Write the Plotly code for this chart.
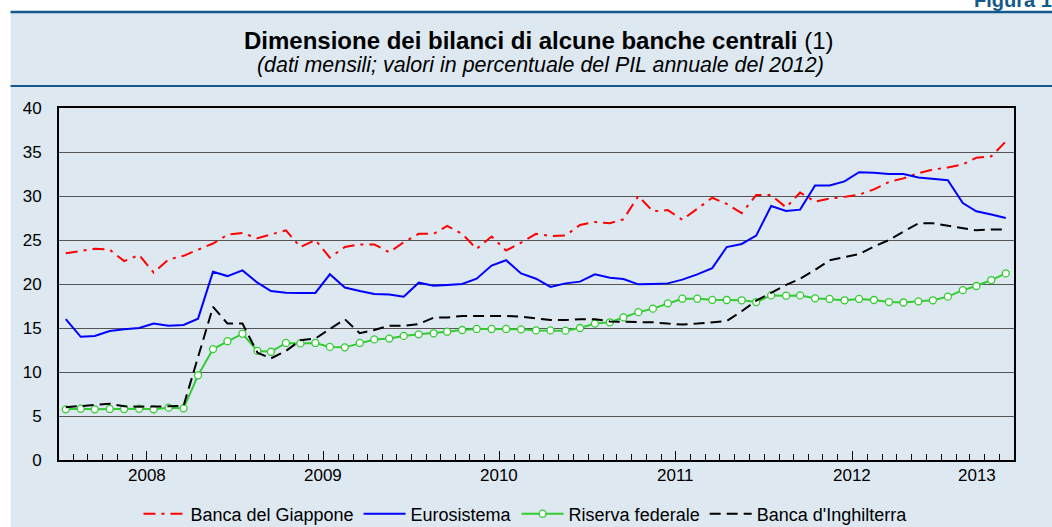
import pandas as pd
import plotly.graph_objects as go

# ---------------- data (monthly, % of 2012 annual GDP) ----------------
start_month = "2008-01-01"
n_months = 65
months = pd.date_range(start_month, periods=n_months, freq="MS") + pd.Timedelta(days=14)

giappone = [23.5, 23.8, 24.0, 23.9, 22.6, 23.3, 21.3, 22.8, 23.2, 23.9, 24.6, 25.6,
            25.8, 25.2, 25.65, 26.1, 24.2, 25.0, 23.0, 24.2, 24.5, 24.5, 23.6, 24.75,
            25.7, 25.7, 26.6, 25.7, 24.0, 25.4, 23.8, 24.7, 25.7, 25.45, 25.5, 26.7,
            27.05, 26.9, 27.35, 30.0, 28.26, 28.4, 27.3, 28.56, 29.8, 29.1, 28.05, 30.1,
            30.1, 28.7, 30.4, 29.35, 29.7, 29.9, 30.15, 30.75, 31.6, 32.0, 32.6, 33.0,
            33.25, 33.6, 34.35, 34.5, 36.2]

eurosistema = [16.0, 14.0, 14.1, 14.66, 14.85, 15.0, 15.5, 15.26, 15.34, 16.06, 21.4, 20.9,
               21.55, 20.15, 19.2, 19.0, 18.98, 18.98, 21.1, 19.6, 19.2, 18.86, 18.8, 18.56,
               20.15, 19.8, 19.9, 20.0, 20.6, 22.1, 22.7, 21.2, 20.6, 19.66, 20.07, 20.27,
               21.1, 20.7, 20.57, 19.96, 20.0, 20.07, 20.5, 21.1, 21.8, 24.2, 24.55, 25.5,
               28.86, 28.3, 28.45, 31.2, 31.2, 31.66, 32.7, 32.65, 32.5, 32.5, 32.1, 31.97,
               31.8, 29.2, 28.26, 27.9, 27.5]

riserva_federale = [5.76, 5.83, 5.76, 5.8, 5.8, 5.83, 5.76, 5.95, 5.87, 9.62, 12.6, 13.5,
                    14.35, 12.4, 12.3, 13.3, 13.25, 13.3, 12.85, 12.8, 13.3, 13.7, 13.8, 14.1,
                    14.28, 14.4, 14.58, 14.77, 14.89, 14.89, 14.89, 14.85, 14.73, 14.73, 14.7, 15.0,
                    15.5, 15.65, 16.2, 16.8, 17.2, 17.8, 18.33, 18.33, 18.2, 18.18, 18.15, 17.95,
                    18.7, 18.67, 18.7, 18.37, 18.3, 18.15, 18.3, 18.18, 17.95, 17.9, 18.03, 18.15,
                    18.56, 19.3, 19.77, 20.45, 21.2]

inghilterra = [6.0, 6.17, 6.25, 6.4, 6.1, 6.06, 6.06, 6.1, 6.17, 11.7, 17.4, 15.5,
               15.5, 12.2, 11.55, 12.4, 13.6, 13.8, 14.85, 16.0, 14.4, 14.77, 15.26, 15.26,
               15.45, 16.17, 16.2, 16.36, 16.36, 16.4, 16.36, 16.3, 16.06, 15.9, 15.9, 16.0,
               16.0, 15.75, 15.7, 15.7, 15.65, 15.5, 15.4, 15.5, 15.65, 15.8, 16.9, 18.1,
               19.0, 19.9, 20.6, 21.6, 22.7, 23.1, 23.4, 24.25, 25.0, 25.95, 26.9, 26.9,
               26.6, 26.3, 26.1, 26.2, 26.2]

series_names = ["Banca del Giappone", "Eurosistema", "Riserva federale", "Banca d'Inghilterra"]

year_labels = ["2008", "2009", "2010", "2011", "2012", "2013"]
year_label_pos = ["2008-07-01", "2009-07-01", "2010-07-01", "2011-07-01", "2012-07-01", "2013-03-16"]
year_bounds = ["2009-01-01", "2010-01-01", "2011-01-01", "2012-01-01", "2013-01-01"]
mid_years = ["2008-07-01", "2009-07-01", "2010-07-01", "2011-07-01", "2012-07-01"]
x_range = ["2008-01-01", "2013-06-01"]
y_ticks = [0, 5, 10, 15, 20, 25, 30, 35, 40]

# ---------------- styling ----------------
FONT = "Liberation Sans, Arial, Helvetica, sans-serif"
PANEL = "#dde8f1"
DARKBLUE = "#14598a"

# pixel geometry helpers (plot area 58.5..1014 x, 108..460 y)
L, R, T, B = 58.5, 1014.0, 108.0, 460.0
def px(x):
    return (x - L) / (R - L)
def py(y):
    return (B - y) / (B - T)

fig = go.Figure()

fig.add_trace(go.Scatter(x=months, y=giappone, name=series_names[0], mode="lines",
                         line=dict(color="#ff0000", width=2, dash="12px,6px,3px,6px")))
fig.add_trace(go.Scatter(x=months, y=eurosistema, name=series_names[1], mode="lines",
                         line=dict(color="#0000ff", width=2)))
fig.add_trace(go.Scatter(x=months, y=riserva_federale, name=series_names[2], mode="lines+markers",
                         line=dict(color="#33cc33", width=2),
                         marker=dict(symbol="circle", size=7, color="white",
                                     line=dict(color="#33cc33", width=1.3))))
fig.add_trace(go.Scatter(x=months, y=inghilterra, name=series_names[3], mode="lines",
                         line=dict(color="#000000", width=2, dash="11px,6px")))

shapes = [
    # light blue panel
    dict(type="rect", xref="paper", yref="paper", x0=px(10), x1=px(1100), y0=py(600), y1=py(12),
         fillcolor=PANEL, line=dict(width=0), layer="below"),
    # dark blue rules
    dict(type="line", xref="paper", yref="paper", x0=px(10), x1=px(1100), y0=py(12), y1=py(12),
         line=dict(color=DARKBLUE, width=2.5)),
    dict(type="line", xref="paper", yref="paper", x0=px(10), x1=px(1100), y0=py(86), y1=py(86),
         line=dict(color=DARKBLUE, width=2)),
]

annotations = [
    dict(xref="paper", yref="paper", x=px(539), y=py(40), xanchor="center", yanchor="middle",
         text="<b>Dimensione dei bilanci di alcune banche centrali</b> (1)", showarrow=False,
         font=dict(family=FONT, size=24, color="black")),
    dict(xref="paper", yref="paper", x=px(540), y=py(65), xanchor="center", yanchor="middle",
         text="<i>(dati mensili; valori in percentuale del PIL annuale del 2012)</i>", showarrow=False,
         font=dict(family=FONT, size=21.4, color="black")),
    dict(xref="paper", yref="paper", x=px(972), y=py(13), xanchor="left", yanchor="bottom",
         text="<b>Figura 1</b>", showarrow=False,
         font=dict(family=FONT, size=20, color=DARKBLUE)),
]
for lab, pos in zip(year_labels, year_label_pos):
    annotations.append(dict(xref="x", yref="paper", x=pos, y=0, xanchor="center", yanchor="middle",
                            yshift=-15, text=lab, showarrow=False,
                            font=dict(family=FONT, size=17, color="black")))

fig.update_layout(
    width=1052, height=527,
    margin=dict(l=L, r=1052 - R, t=T, b=527 - B, pad=0, autoexpand=False),
    paper_bgcolor="white", plot_bgcolor="white",
    font=dict(family=FONT, size=17, color="black"),
    shapes=shapes, annotations=annotations,
    showlegend=True,
    legend=dict(orientation="h", x=px(138), xanchor="left", y=py(514), yanchor="middle",
                bgcolor="rgba(0,0,0,0)", font=dict(family=FONT, size=18), itemwidth=42,
                tracegroupgap=0),
    xaxis=dict(type="date", range=x_range, showgrid=False, zeroline=False, automargin=False,
               tickmode="array", tickvals=mid_years, ticks="inside", ticklen=9,
               tickcolor="black", tickwidth=1, showticklabels=False,
               minor=dict(ticks="inside", ticklen=6, tickcolor="black", tickwidth=1,
                          dtick="M1", tick0="2008-01-01", showgrid=False),
               showline=True, linecolor="black", linewidth=2, mirror=True),
    xaxis2=dict(type="date", range=x_range, overlaying="x", anchor="y", side="bottom",
                tickmode="array", tickvals=year_bounds, showgrid=True, gridcolor="black",
                gridwidth=1, ticks="", showticklabels=False, zeroline=False, showline=False,
                automargin=False),
    yaxis=dict(range=[0, 40], tickmode="array", tickvals=y_ticks, showgrid=True,
               gridcolor="#555555", gridwidth=1, zeroline=False, ticks="", automargin=False,
               ticklabelstandoff=12, tickfont=dict(size=17),
               showline=True, linecolor="black", linewidth=2, mirror=True),
    yaxis2=dict(range=[0, 40], overlaying="y", side="right", anchor="x", tickmode="array",
                tickvals=y_ticks, showgrid=False, zeroline=False, ticks="", automargin=False,
                ticklabelstandoff=12, tickfont=dict(size=17), showline=False),
)

fig.write_html("out.html", config={"displayModeBar": False},
               post_script="document.body.style.margin='0px';")
